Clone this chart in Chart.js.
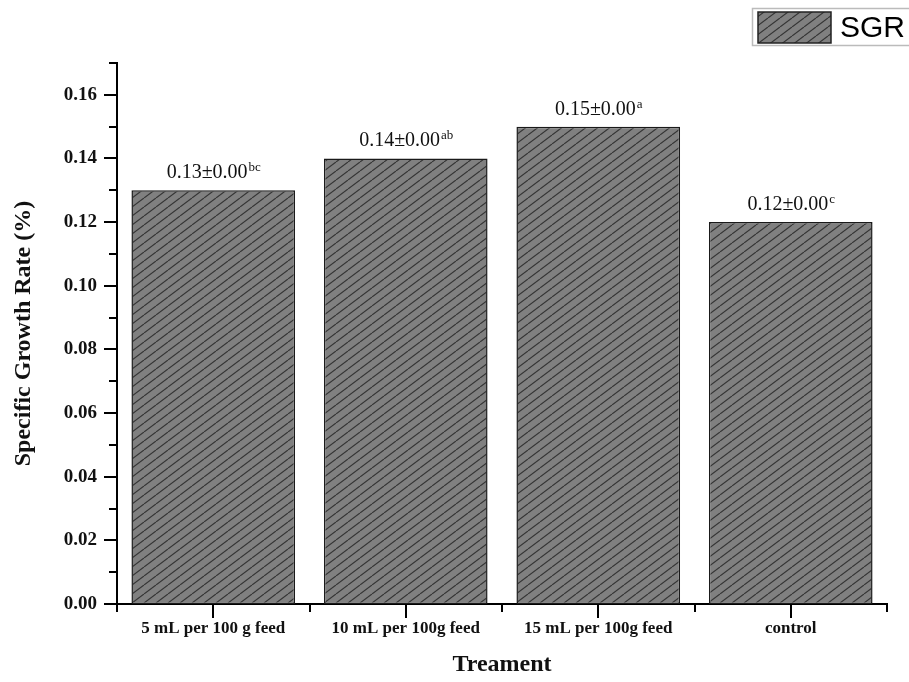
<!DOCTYPE html>
<html>
<head>
<meta charset="utf-8">
<script src="https://cdn.jsdelivr.net/npm/chart.js@4.4.1/dist/chart.umd.min.js"></script>
<style>
  html, body { margin: 0; padding: 0; background: #fff; }
  #wrap { width: 909px; height: 682px; }
</style>
</head>
<body>
<div id="wrap"><canvas id="sgrChart"></canvas></div>
<script>
const categories = ['5 mL per 100 g feed', '10 mL per 100g feed', '15 mL per 100g feed', 'control'];
const sgrValues = [0.13, 0.14, 0.15, 0.12];
const sgrErrors = ['0.00', '0.00', '0.00', '0.00'];
const sgrLetters = ['bc', 'ab', 'a', 'c'];
const seriesName = 'SGR';

function hatch() {
    const w = 12, h = 9;
    const c = document.createElement('canvas');
    c.width = w; c.height = h;
    const g = c.getContext('2d');
    g.fillStyle = '#808080';
    g.fillRect(0, 0, w, h);
    g.strokeStyle = '#363636';
    g.lineWidth = 1.2;
    g.beginPath();
    g.moveTo(-w, h); g.lineTo(0, 0);
    g.moveTo(0, h); g.lineTo(w, 0);
    g.moveTo(w, h); g.lineTo(2 * w, 0);
    g.stroke();
    return g.createPattern(c, 'repeat');
}
const pattern = hatch();

// tick marks, value labels, legend box
const extras = {
    id: 'extras',
    afterDraw(chart) {
        const ctx = chart.ctx;
        const x = chart.scales.x, y = chart.scales.y;
        ctx.save();
        ctx.strokeStyle = '#000';
        ctx.lineWidth = 2;
        ctx.beginPath();
        y.ticks.forEach((t, i) => {
            const py = Math.round(y.getPixelForTick(i));
            const major = Math.round(t.value * 100) % 2 === 0;
            ctx.moveTo(x.left, py);
            ctx.lineTo(x.left - (major ? 13 : 8), py);
        });
        x.ticks.forEach((t, i) => {
            const px = Math.round(x.getPixelForTick(i));
            ctx.moveTo(px, y.bottom);
            ctx.lineTo(px, y.bottom + 14);
        });
        for (let i = 0; i <= categories.length; i++) {
            const px = Math.round(x.left + (x.right - x.left) * i / categories.length);
            ctx.moveTo(px, y.bottom);
            ctx.lineTo(px, y.bottom + 8);
        }
        ctx.stroke();

        // value labels with superscript letters
        const meta = chart.getDatasetMeta(0);
        meta.data.forEach((bar, i) => {
            const main = sgrValues[i].toFixed(2) + '±' + sgrErrors[i];
            ctx.font = '20px "Liberation Serif", serif';
            const w1 = ctx.measureText(main).width;
            ctx.font = '13px "Liberation Serif", serif';
            const w2 = ctx.measureText(sgrLetters[i]).width;
            const sx = bar.x - (w1 + w2) / 2;
            const by = bar.y - 12;
            ctx.fillStyle = '#111';
            ctx.textAlign = 'left';
            ctx.textBaseline = 'alphabetic';
            ctx.font = '20px "Liberation Serif", serif';
            ctx.fillText(main, sx, by);
            ctx.font = '13px "Liberation Serif", serif';
            ctx.fillText(sgrLetters[i], sx + w1 + 1, by - 7);
        });

        // legend
        ctx.fillStyle = '#fff';
        ctx.strokeStyle = '#bbb';
        ctx.lineWidth = 1.5;
        ctx.fillRect(752, 8, 170, 37);
        ctx.strokeRect(752.5, 8.5, 170, 37);
        ctx.fillStyle = pattern;
        ctx.fillRect(758, 12, 73, 31);
        ctx.strokeStyle = '#222';
        ctx.lineWidth = 1.5;
        ctx.strokeRect(758, 12, 73, 31);
        ctx.fillStyle = '#000';
        ctx.font = '30px "Liberation Sans", Arial, sans-serif';
        ctx.textBaseline = 'middle';
        ctx.fillText(seriesName, 840, 29);
        ctx.restore();
    }
};

new Chart(document.getElementById('sgrChart'), {
    type: 'bar',
    data: {
        labels: categories,
        datasets: [{
            label: seriesName,
            data: sgrValues,
            backgroundColor: pattern,
            borderColor: '#1a1a1a',
            borderWidth: 1.5,
            borderSkipped: false,
            barPercentage: 0.85,
            categoryPercentage: 1.0
        }]
    },
    options: {
        responsive: true,
        maintainAspectRatio: false,
        animation: false,
        layout: { padding: { top: 63, right: 22, left: 0, bottom: 0 } },
        plugins: {
            legend: { display: false },
            tooltip: { enabled: false }
        },
        scales: {
            x: {
                grid: { display: false, drawTicks: false },
                border: { display: true, color: '#000', width: 2 },
                ticks: {
                    color: '#111',
                    padding: 14,
                    maxRotation: 0,
                    font: { family: '"Liberation Serif", serif', size: 17, weight: 'bold' }
                },
                title: {
                    display: true,
                    text: 'Treament',
                    color: '#111',
                    padding: { top: 0, bottom: 3 },
                    font: { family: '"Liberation Serif", serif', size: 24, weight: 'bold' }
                },
                afterFit(scale) { scale.height = 78; }
            },
            y: {
                min: 0,
                max: 0.17,
                grid: { display: false, drawTicks: false },
                border: { display: true, color: '#000', width: 2 },
                ticks: {
                    stepSize: 0.01,
                    autoSkip: false,
                    color: '#111',
                    padding: 20,
                    font: { family: '"Liberation Serif", serif', size: 19, weight: 'bold' },
                    callback: (v) => {
                        const k = Math.round(v * 100);
                        return k % 2 === 0 ? (k / 100).toFixed(2) : '';
                    }
                },
                title: {
                    display: true,
                    text: 'Specific Growth Rate (%)',
                    color: '#111',
                    padding: { top: 9, bottom: 0 },
                    font: { family: '"Liberation Serif", serif', size: 24, weight: 'bold' }
                },
                afterFit(scale) { scale.width = 117; }
            }
        }
    },
    plugins: [extras]
});
</script>
</body>
</html>
